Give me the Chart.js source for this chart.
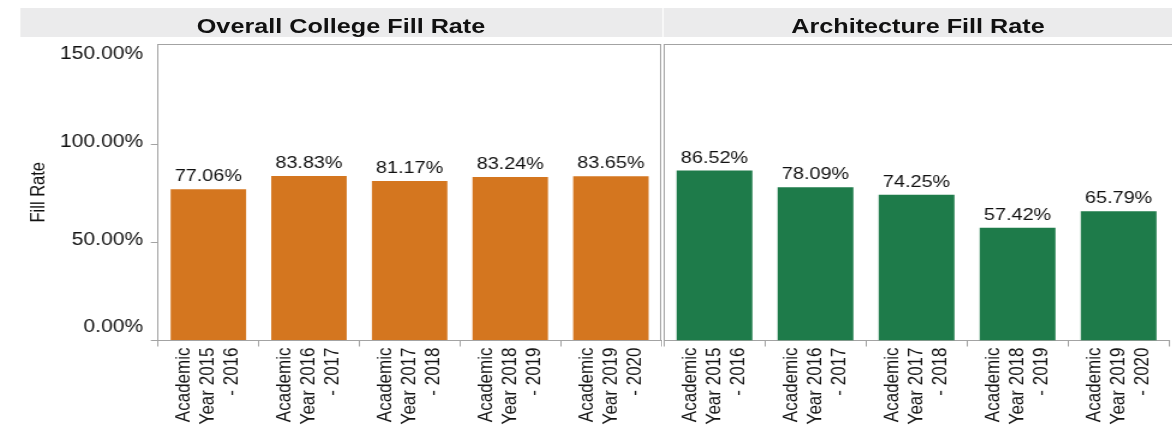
<!DOCTYPE html>
<html>
<head>
<meta charset="utf-8">
<title>Fill Rate</title>
<script src="https://cdn.jsdelivr.net/npm/chart.js@4"></script>
<style>
  html, body { margin: 0; padding: 0; background: #fff; overflow: hidden; }
  /* painel desenhado um pouco mais estreito e esticado na horizontal */
  #painel { position: relative; width: 977px; height: 446px; transform: scaleX(1.2); transform-origin: 0 0;
            font-family: "Liberation Sans", Arial, sans-serif; }
  .cabecalho { position: absolute; top: 8px; height: 29px; background: #ebebec; text-align: center;
               font-weight: bold; font-size: 21px; line-height: 36px; color: #111; white-space: nowrap; }
  .grafico { position: absolute; top: 40px; height: 406px; }
</style>
</head>
<body>
<div id="painel">
  <div class="cabecalho" style="left:16.7px; width:535px;">Overall College Fill Rate</div>
  <div class="cabecalho" style="left:553.3px; width:423.4px;">Architecture Fill Rate</div>
  <div class="grafico" style="left:0; width:552px;"><canvas id="grafico-faculdade"></canvas></div>
  <div class="grafico" style="left:552px; width:424.7px;"><canvas id="grafico-arquitetura"></canvas></div>
</div>
<script>
// Dados das taxas de preenchimento
const categorias = [
    ['Academic', 'Year 2015', '- 2016'],
    ['Academic', 'Year 2016', '- 2017'],
    ['Academic', 'Year 2017', '- 2018'],
    ['Academic', 'Year 2018', '- 2019'],
    ['Academic', 'Year 2019', '- 2020']
];
const taxaFaculdade = [77.06, 83.83, 81.17, 83.24, 83.65];
const taxaArquitetura = [86.52, 78.09, 74.25, 57.42, 65.79];
const marcasY = [0, 50, 100, 150];

const fonte = '"Liberation Sans", Arial, sans-serif';
const cinza = '#a3a3a3';

// Valor em cima de cada barra
const rotulosPlugin = {
    id: 'rotulos',
    afterDatasetsDraw(chart) {
        const ctx = chart.ctx;
        const dados = chart.data.datasets[0].data;
        ctx.save();
        ctx.fillStyle = '#111';
        ctx.font = '16.5px ' + fonte;
        ctx.textAlign = 'center';
        ctx.textBaseline = 'alphabetic';
        chart.getDatasetMeta(0).data.forEach((barra, i) => {
            ctx.fillText(dados[i].toFixed(2) + '%', barra.x, barra.y - 8);
        });
        ctx.restore();
    }
};

// Linha de cima e linha da direita do quadro
const bordaPlugin = {
    id: 'borda',
    afterDraw(chart, args, opts) {
        const ctx = chart.ctx;
        const a = chart.chartArea;
        const topo = Math.round(a.top) + 0.5;
        ctx.save();
        ctx.strokeStyle = cinza;
        ctx.lineWidth = 1;
        ctx.beginPath();
        ctx.moveTo(a.left, topo);
        ctx.lineTo(opts.ateFim ? chart.width : a.right, topo);
        if (opts.direita) {
            const x = Math.round(a.right) - 0.5;
            ctx.moveTo(x, topo);
            ctx.lineTo(x, a.bottom);
        }
        ctx.stroke();
        ctx.restore();
    }
};

// Rótulos do eixo Y (o primeiro e o último ficam dentro do quadro)
const eixoYPlugin = {
    id: 'eixoY',
    afterDraw(chart) {
        const ctx = chart.ctx;
        const esc = chart.scales.y;
        ctx.save();
        ctx.fillStyle = '#111';
        ctx.font = '17.5px ' + fonte;
        ctx.textAlign = 'right';
        ctx.textBaseline = 'middle';
        marcasY.forEach((v, i) => {
            let desl = -2;
            if (i === 0) desl = -13;
            if (i === marcasY.length - 1) desl = 8.5;
            ctx.fillText(v.toFixed(2) + '%', chart.chartArea.left - 12.5, esc.getPixelForValue(v) + desl);
        });
        ctx.restore();
    }
};

function criarEscalas(comEixo) {
    return {
        x: {
            grid: { display: true, drawOnChartArea: false, drawTicks: true, tickLength: 6, color: cinza, offset: true },
            border: { display: true, color: cinza },
            ticks: {
                autoSkip: false, maxRotation: 90, minRotation: 90,
                labelOffset: -20, padding: 1, color: '#111',
                font: { family: fonte, size: 17, lineHeight: 1.18 }
            },
            afterFit(s) { s.height = 105.5; s.paddingLeft = 0; s.paddingRight = 0; }
        },
        y: {
            min: 0,
            max: 151,
            afterBuildTicks(s) { s.ticks = marcasY.map(v => ({ value: v })); },
            ticks: { display: false },
            grid: {
                display: comEixo, drawOnChartArea: false, drawTicks: true, tickLength: 6,
                color: c => (c.tick && c.tick.value === 150) ? 'rgba(0,0,0,0)' : cinza
            },
            border: { display: true, color: cinza },
            title: {
                display: comEixo, text: 'Fill Rate', color: '#111',
                font: { family: fonte, size: 16.5, lineHeight: 1.2 },
                padding: { top: 23, bottom: 0 }
            },
            afterFit(s) { s.width = comEixo ? 131.7 : 0; s.paddingTop = 0; s.paddingBottom = 0; }
        }
    };
}

function criarGrafico(id, valores, cor, comEixo, padding, borda) {
    const plugins = [rotulosPlugin, bordaPlugin];
    if (comEixo) plugins.push(eixoYPlugin);
    return new Chart(document.getElementById(id).getContext('2d'), {
        type: 'bar',
        data: {
            labels: categorias,
            datasets: [{
                data: valores,
                backgroundColor: cor,
                borderWidth: 0,
                barPercentage: 0.75,
                categoryPercentage: 1
            }]
        },
        options: {
            responsive: true,
            maintainAspectRatio: false,
            animation: false,
            layout: { padding: padding },
            plugins: {
                legend: { display: false },
                tooltip: { enabled: false },
                borda: borda
            },
            scales: criarEscalas(comEixo)
        },
        plugins: plugins
    });
}

criarGrafico('grafico-faculdade', taxaFaculdade, '#d4761f', true,
    { top: 4, left: 0, right: 1, bottom: 0 }, { direita: true, ateFim: false });
criarGrafico('grafico-arquitetura', taxaArquitetura, '#1e7b4a', false,
    { top: 4, left: 1.3, right: 3.4, bottom: 0 }, { direita: false, ateFim: true });
</script>
</body>
</html>
